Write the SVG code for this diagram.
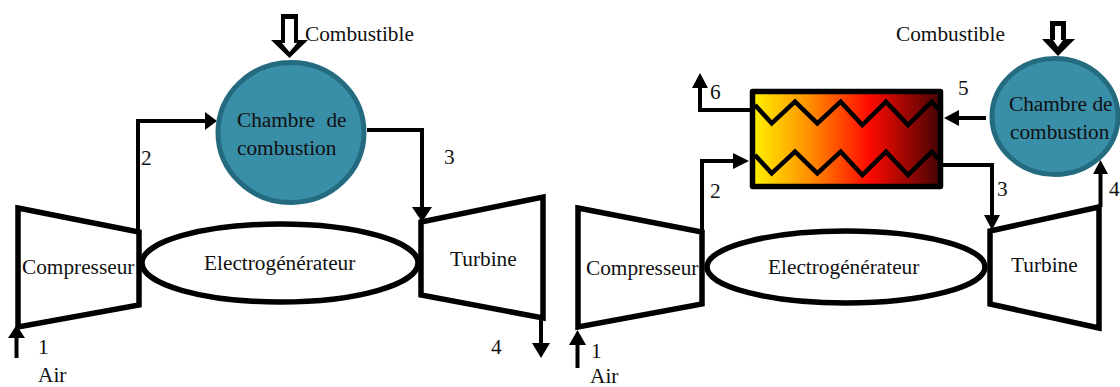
<svg xmlns="http://www.w3.org/2000/svg" width="1120" height="387" viewBox="0 0 1120 387">
<style>
text{font-family:"Liberation Serif","Times New Roman",serif;font-size:21.300px;fill:#111}
.m{fill:#fff;stroke:#000;stroke-width:5.500;stroke-linejoin:miter}
.c{fill:#398EA8;stroke:#256B80;stroke-width:5}
.l{fill:none;stroke:#000;stroke-width:4}
.z{fill:none;stroke:#000;stroke-width:4.500}
.h{fill:#000;stroke:none}
.w{fill:#fff;stroke:none}
</style>
<defs>
<linearGradient id="hx" x1="0" x2="1" y1="0" y2="0">
<stop offset="0" stop-color="#FFF200"/>
<stop offset="0.3" stop-color="#FF9000"/>
<stop offset="0.62" stop-color="#FF0A00"/>
<stop offset="1" stop-color="#430404"/>
</linearGradient>
</defs>
<g id="connectors">
<path class="l" d="M138 232V121H206"/><path class="h" d="M217 121L205 112V130Z"/>
<path class="l" d="M367 130H422V208"/><path class="h" d="M422 222L412 207H432Z"/>
<path class="l" d="M16.500 358V336"/><path class="h" d="M16.500 325L8 338H25Z"/>
<path class="l" d="M541 318V345"/><path class="h" d="M541 358L532 343H550Z"/>
<path class="l" d="M752 110H700V86"/><path class="h" d="M700 73L692 88H708Z"/>
<path class="l" d="M702 232V161H735"/><path class="h" d="M749 161L733 153V169Z"/>
<path class="l" d="M986 118H958"/><path class="h" d="M944 118L959 110V126Z"/>
<path class="l" d="M943 165H992V217"/><path class="h" d="M992 230L984 215H1000Z"/>
<path class="l" d="M1100.500 207V171"/><path class="h" d="M1100.500 160L1093 174H1108Z"/>
<path class="l" d="M577.500 368V343"/><path class="h" d="M577.500 330L569 345H586Z"/>
</g>
<g id="fuel-left"><path class="h" d="M281 14H298V40H308L289.500 58L271 40H281Z"/><path class="w" d="M285 19H294V43H297L289.500 52L282 43H285Z"/></g>
<g id="fuel-right"><path class="h" d="M1050 21H1066V39H1075L1058 56L1042 39H1050Z"/><path class="w" d="M1055 26H1061V40H1063L1058 47L1053 40H1055Z"/></g>
<g id="compresseur-left"><path class="m" d="M18 208L139 232V305L18 327Z"/><text x="22" y="274">Compresseur</text></g>
<g id="generateur-left"><ellipse class="m" cx="280" cy="263" rx="138" ry="39"/><text x="204" y="270">Electrogénérateur</text></g>
<g id="turbine-left"><path class="m" d="M421 222L543 197V318L421 295Z"/><text x="450" y="266">Turbine</text></g>
<g id="chambre-left"><ellipse class="c" cx="291" cy="132.500" rx="73" ry="70"/><text x="237" y="127" word-spacing="6">Chambre de</text><text x="237" y="155">combustion</text></g>
<g id="compresseur-right"><path class="m" d="M578 208L702 232V304L578 327Z"/><text x="586" y="275">Compresseur</text></g>
<g id="generateur-right"><ellipse class="m" cx="846" cy="267" rx="139" ry="36"/><text x="768" y="274">Electrogénérateur</text></g>
<g id="turbine-right"><path class="m" d="M990 231L1099 207V328L990 304Z"/><text x="1011" y="272">Turbine</text></g>
<g id="chambre-right"><ellipse class="c" cx="1055" cy="116.500" rx="63" ry="58"/><text x="1009" y="111">Chambre de</text><text x="1010" y="139">combustion</text></g>
<g id="echangeur">
<rect x="752.500" y="91.500" width="188" height="95" fill="url(#hx)" stroke="#000" stroke-width="5.500" stroke-linejoin="round"/>
<path class="z" d="M755 105L771.700 123.300L795 101.700L817.300 123.300L840.700 101.700L862.300 125L886 101.700L908 125L931.700 101.700L939.300 110"/>
<path class="z" d="M755 155L771.700 173.300L795 151.700L817.300 173.300L840.700 151.700L862.300 175L886 151.700L908 175L931.700 151.700L939.300 160"/>
</g>
<g id="labels">
<text x="305" y="41">Combustible</text>
<text x="896" y="41">Combustible</text>
<text x="141" y="165">2</text><text x="444" y="164">3</text>
<text x="38" y="354">1</text><text x="38" y="382">Air</text><text x="491" y="354">4</text>
<text x="710" y="99">6</text><text x="958" y="95">5</text>
<text x="710" y="198">2</text><text x="997" y="196">3</text><text x="1109" y="196">4</text>
<text x="591" y="358">1</text><text x="590" y="383">Air</text>
</g>
</svg>
